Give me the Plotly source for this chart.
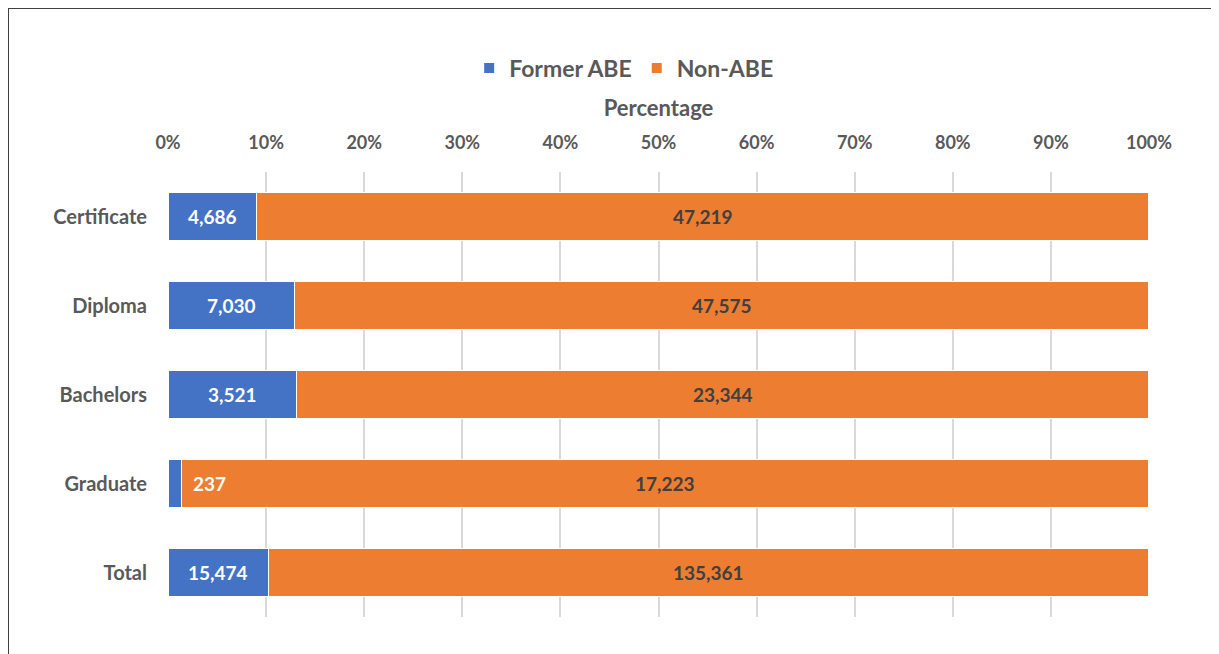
import plotly.graph_objects as go

categories = ["Certificate", "Diploma", "Bachelors", "Graduate", "Total"]
former_abe = [4686, 7030, 3521, 237, 15474]
non_abe = [47219, 47575, 23344, 17223, 135361]
tick_vals = [0, 10, 20, 30, 40, 50, 60, 70, 80, 90, 100]
tick_text = [f"{v}%" for v in tick_vals]

totals = [a + b for a, b in zip(former_abe, non_abe)]
pct_a = [a / t * 100 for a, t in zip(former_abe, totals)]
pct_b = [b / t * 100 for b, t in zip(non_abe, totals)]

FONT = "Lato"
BLUE = "#4472C4"
ORANGE = "#ED7D31"
GRAY = "#595959"

W, H = 1211, 646
L, R, T, B = 160, 70, 164, 37
PW, PH = W - L - R, H - T - B

fig = go.Figure()
fig.add_trace(go.Bar(
    y=categories, x=pct_a, name="Former ABE", orientation="h",
    marker=dict(color=BLUE, line=dict(color="white", width=1.5)),
    hoverinfo="skip",
))
fig.add_trace(go.Bar(
    y=categories, x=pct_b, name="Non-ABE", orientation="h",
    marker=dict(color=ORANGE, line=dict(color="white", width=1.5)),
    hoverinfo="skip",
))

annotations = []
for cat, a, b, pa, pb in zip(categories, former_abe, non_abe, pct_a, pct_b):
    if pa < 4:
        annotations.append(dict(x=pa + 1.0, y=cat, xref="x", yref="y", text=f"{a:,}",
                                showarrow=False, xanchor="left",
                                font=dict(family=FONT, size=19, color="white", weight="bold")))
    else:
        annotations.append(dict(x=pa / 2, y=cat, xref="x", yref="y", text=f"{a:,}",
                                showarrow=False,
                                font=dict(family=FONT, size=19, color="white", weight="bold")))
    annotations.append(dict(x=pa + pb / 2, y=cat, xref="x", yref="y", text=f"{b:,}",
                            showarrow=False,
                            font=dict(family=FONT, size=19, color="#404040", weight="bold")))

fig.update_layout(
    width=W, height=H,
    barmode="stack", bargap=0.46,
    plot_bgcolor="white", paper_bgcolor="white",
    margin=dict(l=L, r=R, t=T, b=B),
    font=dict(family=FONT, color=GRAY),
    legend=dict(orientation="h", x=0.465, xanchor="center", yref="container",
                y=1 - 60 / H, yanchor="middle",
                font=dict(family=FONT, size=23, color=GRAY, weight="bold"),
                itemsizing="constant", traceorder="normal"),
    annotations=annotations,
)
fig.update_xaxes(
    side="top", range=[0, 100], tickvals=tick_vals, ticktext=tick_text,
    showgrid=True, gridcolor="#D9D9D9", gridwidth=1.5, zeroline=False,
    showline=False, ticks="", ticklabelstandoff=18,
    tickfont=dict(family=FONT, size=18, color=GRAY, weight="bold"),
    title=dict(text="Percentage", font=dict(family=FONT, size=22, color=GRAY, weight="bold"),
               standoff=8),
)
fig.update_yaxes(
    autorange="reversed", showgrid=False, showline=False, ticks="",
    ticklabelstandoff=20,
    tickfont=dict(family=FONT, size=20, color=GRAY, weight="bold"),
)
# outer chart border (left/top dark, right gray)
fig.add_shape(type="line", xref="paper", yref="paper", x0=-L / PW, x1=-L / PW,
              y0=-B / PH, y1=1 + T / PH, line=dict(color="#404040", width=2))
fig.add_shape(type="line", xref="paper", yref="paper", x0=-L / PW, x1=(W - 3 - L) / PW,
              y0=1 + T / PH, y1=1 + T / PH, line=dict(color="#404040", width=2))
fig.add_shape(type="line", xref="paper", yref="paper", x0=(W - 3 - L) / PW, x1=(W - 3 - L) / PW,
              y0=-B / PH, y1=1 + T / PH, line=dict(color="#A6A6A6", width=1.5))

fig.write_html("out.html")
